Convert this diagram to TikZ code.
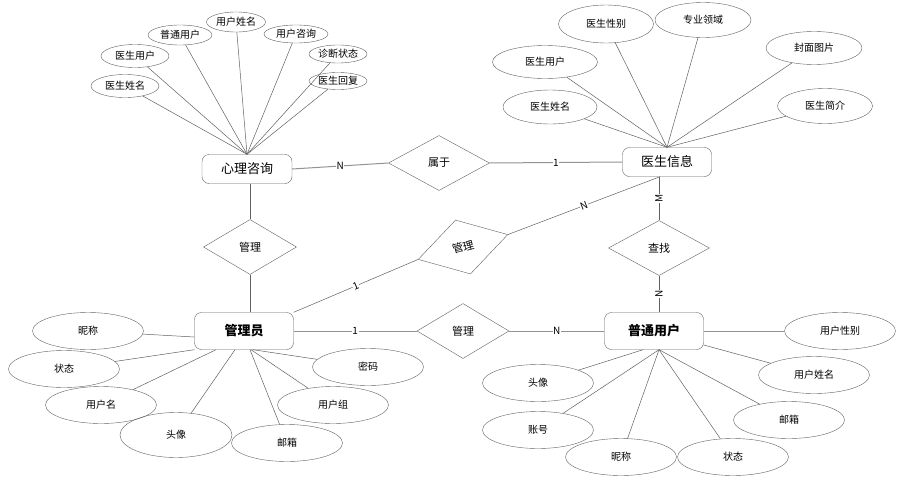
\documentclass[tikz,border=0pt]{standalone}
\usepackage{fontspec}
\setmainfont{Noto Sans CJK SC}
\usetikzlibrary{shapes,positioning,calc}
\colorlet{linegray}{black!62}

\begin{document}
\begin{tikzpicture}
  [x=1pt, y=-1pt,
   entity/.style={
     rectangle,
     rounded corners=7pt,
     draw=linegray,
     minimum width=90pt,
     minimum height=29pt,
     font=\fontsize{13}{15}\selectfont
     },
   relation/.style={
     diamond,
     draw=linegray,
     inner sep=0pt,
     minimum width=101pt,
     minimum height=55pt,
     font=\fontsize{11}{13}\selectfont
     },
   attribute/.style={
     ellipse,
     draw=linegray,
     inner sep=0pt,
     minimum width=111pt,
     minimum height=37pt,
     font=\fontsize{10}{12}\selectfont
     },
   link/.style={draw=linegray, line width=0.5pt},
   rel/.style={draw=gray!85, line width=1pt},
   card/.style={fill=white, inner sep=0.6pt, font=\fontsize{10}{12}\selectfont}
  ]
  \path[use as bounding box, fill=white] (0,0) rectangle (916,482);

  % ENTITIES
  \node [entity] (xinlizixun) at (247,169) {心理咨询};
  \node [entity, minimum width=89pt] (yishengxinxi) at (667,162) {医生信息};
  \node [entity, minimum width=99pt, minimum height=37pt, font=\fontsize{13}{15}\selectfont\bfseries]
    (guanliyuan) at (244,331) {管理员};
  \node [entity, minimum width=99pt, minimum height=37pt, font=\fontsize{13}{15}\selectfont\bfseries]
    (putongyonghu) at (654,331) {普通用户};

  % RELATIONS
  \node [relation] (shuyu) at (439,163) {属于};
  \node [relation, minimum width=93pt] (guanlizixun) at (250,247) {管理};
  \node [relation, minimum width=93pt, minimum height=56pt, rotate=15.5] (guanliyisheng) at (463,247) {管理};
  \node [relation] (chazhao) at (659,248) {查找};
  \node [relation, minimum width=92pt] (guanliyonghu) at (463,331) {管理};

  % ATTRIBUTES - XINLIZIXUN
  \node [attribute, minimum width=68pt, minimum height=23pt] (xlzxname) at (125,86) {医生姓名};
  \node [attribute, minimum width=68pt, minimum height=23pt] (xlzxdoctor) at (135,56) {医生用户};
  \node [attribute, minimum width=64pt, minimum height=20pt] (xlzxuser) at (180,35) {普通用户};
  \node [attribute, minimum width=59pt, minimum height=20pt] (xlzxusername) at (236,22) {用户姓名};
  \node [attribute, minimum width=64pt, minimum height=18pt] (xlzxask) at (296,34) {用户咨询};
  \node [attribute, minimum width=58pt, minimum height=18pt] (xlzxstate) at (338,54) {诊断状态};
  \node [attribute, minimum width=58pt, minimum height=17pt] (xlzxreply) at (338,81) {医生回复};

  % ATTRIBUTES - YISHENGXINXI
  \node [attribute, minimum width=95pt, minimum height=38pt] (ysxxsex) at (606,24) {医生性别};
  \node [attribute, minimum width=96pt, minimum height=35pt] (ysxxfield) at (703,20) {专业领域};
  \node [attribute, minimum width=105pt, minimum height=33pt] (ysxxuser) at (545,62) {医生用户};
  \node [attribute, minimum width=96pt, minimum height=33pt] (ysxxcover) at (814,48) {封面图片};
  \node [attribute, minimum width=94pt, minimum height=34pt] (ysxxname) at (550,107) {医生姓名};
  \node [attribute, minimum width=95pt, minimum height=35pt] (ysxxintro) at (825,106) {医生简介};

  % ATTRIBUTES - GUANLIYUAN
  \node [attribute] (glynick) at (88,331) {昵称};
  \node [attribute] (glystate) at (64,369) {状态};
  \node [attribute] (glyname) at (101,405) {用户名};
  \node [attribute, minimum width=112pt, minimum height=45pt] (glyavatar) at (176,435) {头像};
  \node [attribute] (glymail) at (287,443) {邮箱};
  \node [attribute] (glygroup) at (333,405) {用户组};
  \node [attribute] (glypwd) at (368,367) {密码};

  % ATTRIBUTES - PUTONGYONGHU
  \node [attribute] (ptyhsex) at (840,331) {用户性别};
  \node [attribute] (ptyhname) at (814,375) {用户姓名};
  \node [attribute] (ptyhmail) at (789,420) {邮箱};
  \node [attribute] (ptyhstate) at (733,457) {状态};
  \node [attribute] (ptyhnick) at (621,457) {昵称};
  \node [attribute] (ptyhaccount) at (538,430) {账号};
  \node [attribute] (ptyhavatar) at (538,383) {头像};

  % attribute links
  \draw[link] (xlzxname) -- (xinlizixun.north);
  \draw[link] (xlzxdoctor) -- (xinlizixun.north);
  \draw[link] (xlzxuser) -- (xinlizixun.north);
  \draw[link] (xlzxusername) -- (xinlizixun.north);
  \draw[link] (xlzxask) -- (xinlizixun.north);
  \draw[link] (xlzxstate) -- (xinlizixun.north);
  \draw[link] (xlzxreply) -- (xinlizixun.north);

  \draw[link] (ysxxsex) -- (yishengxinxi.north);
  \draw[link] (ysxxfield) -- (yishengxinxi.north);
  \draw[link] (ysxxuser) -- (yishengxinxi.north);
  \draw[link] (ysxxcover) -- (yishengxinxi.north);
  \draw[link] (ysxxname) -- (yishengxinxi.north);
  \draw[link] (ysxxintro) -- (yishengxinxi.north);

  \draw[link] (glynick) -- ([yshift=-6pt]guanliyuan.west);
  \draw[link] (glystate) -- (guanliyuan.south west);
  \draw[link] (glyname) -- ([xshift=-28pt]guanliyuan.south);
  \draw[link] (glyavatar) -- ([xshift=-9pt]guanliyuan.south);
  \draw[link] (glymail) -- ([xshift=6pt]guanliyuan.south);
  \draw[link] (glygroup) -- ([xshift=7pt]guanliyuan.south);
  \draw[link] (glypwd) -- ([xshift=9pt]guanliyuan.south);

  \draw[rel] (ptyhsex) -- (putongyonghu.east);
  \draw[link] (ptyhname) -- ([yshift=-14pt]putongyonghu.east);
  \draw[link] (ptyhmail) -- ([xshift=5pt]putongyonghu.south);
  \draw[link] (ptyhstate) -- ([xshift=5pt]putongyonghu.south);
  \draw[link] (ptyhnick) -- ([xshift=5pt]putongyonghu.south);
  \draw[link] (ptyhaccount) -- ([xshift=5pt]putongyonghu.south);
  \draw[link] (ptyhavatar) -- ([xshift=-11pt]putongyonghu.south);

  % relation links
  \draw[rel] (xinlizixun.east) -- node[card] {N} (shuyu.west);
  \draw[rel] (shuyu.east) -- node[card] {1} (yishengxinxi.west);
  \draw[link] (xinlizixun.south -| guanlizixun.north) -- (guanlizixun.north);
  \draw[link] (guanlizixun.south) -- (guanlizixun.south |- guanliyuan.north);
  \draw[link] (guanliyuan.north east) -- node[card, sloped] {1} (guanliyisheng.west);
  \draw[link] (guanliyisheng.east) -- node[card, sloped] {N} ([xshift=-7pt]yishengxinxi.south);
  \draw[link] (chazhao.north |- yishengxinxi.south) -- node[card, rotate=90] {M} (chazhao.north);
  \draw[link] (chazhao.south) -- node[card, rotate=90] {N} (chazhao.south |- putongyonghu.north);
  \draw[rel] (guanliyuan.east) -- node[card] {1} (guanliyonghu.west);
  \draw[rel] (guanliyonghu.east) -- node[card] {N} (putongyonghu.west);
\end{tikzpicture}
\end{document}
